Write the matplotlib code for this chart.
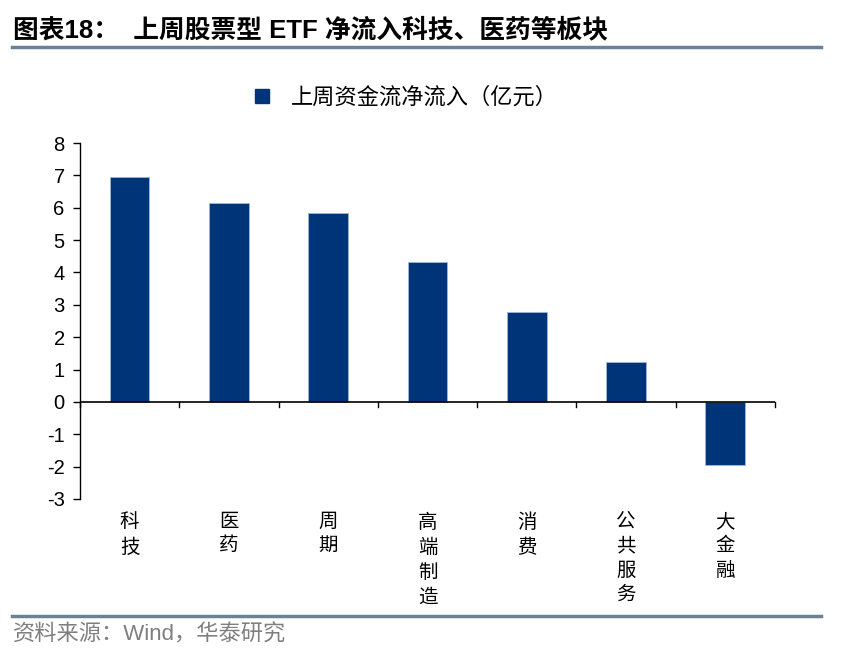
import matplotlib
matplotlib.use("Agg")
import matplotlib.pyplot as plt
from matplotlib.lines import Line2D

plt.rcParams['font.family'] = ['Liberation Sans', 'Noto Sans CJK SC', 'DejaVu Sans']

categories = ['科技', '医药', '周期', '高端制造', '消费', '公共服务', '大金融']
net_inflow = [6.94, 6.14, 5.83, 4.32, 2.78, 1.23, -1.94]
yticks = [-3, -2, -1, 0, 1, 2, 3, 4, 5, 6, 7, 8]

bar_color = '#003478'
rule_color = '#6a8196'

fig = plt.figure(figsize=(8.41, 6.59), dpi=100)
ax = fig.add_axes([0.0951, 0.2428, 0.8264, 0.5402])

x = list(range(len(categories)))
ax.bar(x, net_inflow, width=0.4, color=bar_color, edgecolor='#9db8dc', linewidth=0.6, zorder=2)

ax.set_xlim(-0.5, len(categories) - 0.5)
ax.set_ylim(-3, 8)
ax.set_yticks(yticks)
ax.set_yticklabels([str(v) for v in yticks], fontsize=14.5)
ax.tick_params(axis='y', direction='out', length=5, width=1, pad=6)

for s in ['top', 'right', 'bottom']:
    ax.spines[s].set_visible(False)
ax.spines['left'].set_linewidth(1)

# zero line with category separators
ax.axhline(0, color='black', linewidth=1.2, zorder=3)
ax.set_xticks([])
for b in range(len(categories) + 1):
    ax.plot([b - 0.5, b - 0.5], [0, -0.17], color='black', linewidth=1, clip_on=False, zorder=3)

# vertical category labels
for i, name in enumerate(categories):
    ax.text(i, -3.45, '\n'.join(name), ha='center', va='top', fontsize=14,
            linespacing=1.5, transform=ax.transData)

handle = Line2D([], [], marker='s', linestyle='none', markersize=10, color=bar_color)
fig.legend([handle], ['上周资金流净流入（亿元）'], loc='center', bbox_to_anchor=(0.474, 0.851),
           frameon=False, fontsize=16, handletextpad=0.3)

fig.text(0.015, 0.955, '图表18：  上周股票型 ETF 净流入科技、医药等板块', fontsize=18.5,
         fontweight='bold', ha='left', va='center')
fig.add_artist(Line2D([0.014, 0.976], [0.929, 0.929], color=rule_color, linewidth=2.5))
fig.add_artist(Line2D([0.014, 0.976], [0.065, 0.065], color=rule_color, linewidth=2.5))
fig.text(0.015, 0.037, '资料来源：Wind，华泰研究', fontsize=16, color='#7f7f7f',
         ha='left', va='center')

fig.savefig('out.png', dpi=100)
